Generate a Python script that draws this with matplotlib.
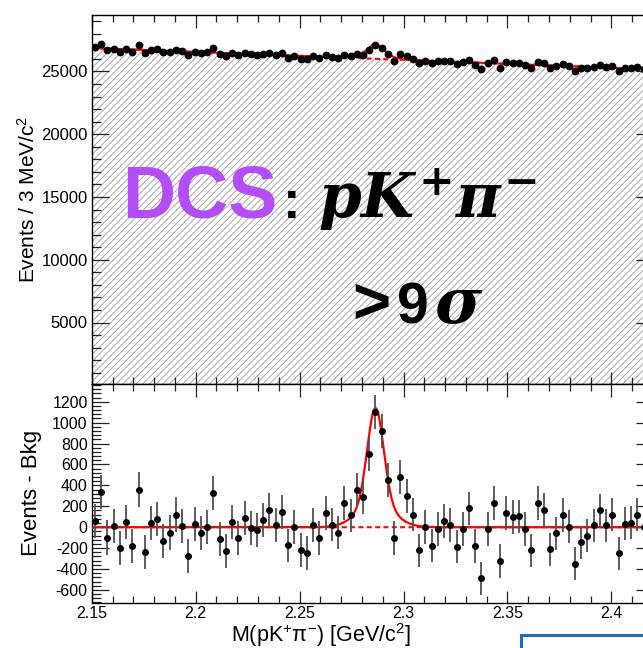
import numpy as np
import matplotlib
matplotlib.use("Agg")
import matplotlib.pyplot as plt
from matplotlib.ticker import MultipleLocator, FuncFormatter
from matplotlib.patches import Rectangle

plt.rcParams['font.family'] = ['Liberation Sans', 'DejaVu Sans']
plt.rcParams['axes.unicode_minus'] = False
plt.rcParams['mathtext.fontset'] = 'custom'
plt.rcParams['mathtext.rm'] = 'Liberation Sans'
plt.rcParams['mathtext.it'] = 'DejaVu Serif:italic:bold'
plt.rcParams['mathtext.bf'] = 'DejaVu Serif:bold'
plt.rcParams['hatch.linewidth'] = 0.7

# --- M(pK+pi-) spectrum, 3 MeV bins from 2.15 GeV ---
m_lo, m_hi, bin_w = 2.15, 2.42, 0.003
counts = [
    26918, 27177, 26724, 26814, 26584, 26817, 26568, 27088, 26476, 26732,
    26752, 26522, 26583, 26736, 26606, 26306, 26590, 26488, 26523, 26831,
    26371, 26238, 26490, 26327, 26493, 26382, 26340, 26417, 26500, 26334,
    26441, 26100, 26259, 26020, 25969, 26221, 26075, 26298, 26168, 26072,
    26338, 26198, 26427, 26335, 26731, 27110, 26910, 26425, 25848, 26416,
    26213, 26018, 25655, 25862, 25665, 25805, 25859, 25802, 25579, 25729,
    25906, 25529, 25201, 25654, 25884, 25310, 25750, 25690, 25680, 25540,
    25315, 25752, 25669, 25270, 25405, 25558, 25430, 25054, 25242, 25287,
    25368, 25490, 25330, 25413, 25024, 25289, 25280, 25337, 25197, 25238,
]

# fit result: linear background + double-Gaussian signal (events per bin)
bkg_p0, bkg_p1 = 26870.0, -6300.0
sig_amp, sig_mean = 1140.0, 2.2865
sig_s1, sig_s2, sig_frac = 0.0039, 0.0085, 0.8


def bkg(m):
    return bkg_p0 + bkg_p1 * (m - m_lo)


def sig(m):
    g1 = np.exp(-0.5 * ((m - sig_mean) / sig_s1) ** 2)
    g2 = np.exp(-0.5 * ((m - sig_mean) / sig_s2) ** 2)
    return sig_amp * (sig_frac * g1 + (1 - sig_frac) * g2)


counts = np.array(counts, dtype=float)
centers = m_lo + bin_w * (np.arange(len(counts)) + 0.5)
errors = np.sqrt(counts)
resid = counts - bkg(centers)
mm = np.linspace(m_lo, m_hi, 1200)

W, H = 643, 648
fig = plt.figure(figsize=(W / 100, H / 100), dpi=100)


def px(x0, y0, x1, y1):
    # pixel box -> figure fraction [left, bottom, width, height]
    return [x0 / W, 1 - y1 / H, (x1 - x0) / W, (y1 - y0) / H]


ax_top = fig.add_axes(px(91.8, 15, 652.9, 384))
ax_bot = fig.add_axes(px(91.8, 384, 652.9, 603))

red = '#ff0000'

# --- upper pad: data, total fit, background ---
ax_top.fill_between(mm, 0, bkg(mm), facecolor='white', edgecolor='#a6a6a6',
                    hatch='/////', linewidth=0, zorder=1)
ax_top.plot(mm, bkg(mm), color=red, lw=1.5, ls=(0, (2.4, 1.6)), zorder=2)
ax_top.plot(mm, bkg(mm) + sig(mm), color=red, lw=1.5, zorder=3)
ax_top.errorbar(centers, counts, yerr=errors, fmt='o', color='black',
                ms=4.6, elinewidth=1.0, capsize=0, zorder=4)
ax_top.set_xlim(m_lo, m_hi)
ax_top.set_ylim(100, 29500)
ax_top.yaxis.set_major_locator(MultipleLocator(5000))
ax_top.yaxis.set_minor_locator(MultipleLocator(1000))

# --- lower pad: background-subtracted ---
ax_bot.plot(mm, np.zeros_like(mm), color=red, lw=1.5, ls=(0, (2.4, 1.6)), zorder=2)
ax_bot.plot(mm, sig(mm), color=red, lw=1.6, zorder=3)
ax_bot.errorbar(centers, resid, yerr=errors, fmt='none', ecolor='#505050',
                elinewidth=1.3, capsize=0, zorder=3)
ax_bot.plot(centers, resid, 'o', color='black', ms=4.0, zorder=4)
ax_bot.set_xlim(m_lo, m_hi)
ax_bot.set_ylim(-725, 1370)
ax_bot.yaxis.set_major_locator(MultipleLocator(200))
ax_bot.yaxis.set_minor_locator(MultipleLocator(40))

for ax in (ax_top, ax_bot):
    ax.xaxis.set_major_locator(MultipleLocator(0.05))
    ax.xaxis.set_minor_locator(MultipleLocator(0.01))
    ax.xaxis.set_major_formatter(FuncFormatter(lambda v, p: f'{v:g}'))
    ax.tick_params(which='both', direction='in', top=True, right=True,
                   labelsize=11.5, pad=3, width=0.9, color='#222222')
    ax.tick_params(axis='y', which='major', length=12.5)
    ax.tick_params(axis='y', which='minor', length=6.2)
    ax.tick_params(axis='x', which='major', length=9)
    ax.tick_params(axis='x', which='minor', length=4.8)
    for s in ax.spines.values():
        s.set_linewidth(1.0)
ax_top.tick_params(labelbottom=False)
ax_top.tick_params(axis='y', labelsize=12)
ax_bot.tick_params(axis='x', pad=2.5)

ax_bot.set_xlabel(r'M(pK$^{+}\mathrm{\pi}^{-}$) [GeV/c$^{2}$]', fontsize=15.5)
ax_bot.xaxis.set_label_coords(321 / W, 1 - 621 / H, transform=fig.transFigure)
fig.text(28 / W, 1 - 199.5 / H, r'Events / 3 MeV/c$^{2}$', rotation=90,
         ha='center', va='center', fontsize=15)
fig.text(32 / W, 1 - 493 / H, 'Events - Bkg', rotation=90,
         ha='center', va='center', fontsize=16)

# --- annotations ---
fig.text(122 / W, 1 - 218 / H, 'DCS', color='#b24df7', fontsize=53,
         fontweight='bold', va='baseline', ha='left')
fig.text(283 / W, 1 - 218 / H, ':', color='black', fontsize=38,
         fontweight='bold', va='baseline', ha='left')
fig.text(318 / W, 1 - 218 / H, r'$pK^{\mathbf{+}}\pi^{\mathbf{-}}$',
         color='black', fontsize=44, va='baseline', ha='left')
fig.text(352 / W, 1 - 323 / H, '>', color='black', fontsize=47,
         fontweight='bold', va='baseline', ha='left')
fig.text(397 / W, 1 - 323 / H, '9', color='black', fontsize=41,
         fontweight='bold', va='baseline', ha='left')
fig.text(434 / W, 1 - 323 / H, r'$\sigma$', color='black', fontsize=46,
         va='baseline', ha='left')

fig.add_artist(Rectangle((521 / W, -0.1), 0.5, (H - 635) / H + 0.1,
                         transform=fig.transFigure, fill=False,
                         edgecolor='#1f6cc6', lw=2.2))

fig.savefig('out.png', dpi=100)
